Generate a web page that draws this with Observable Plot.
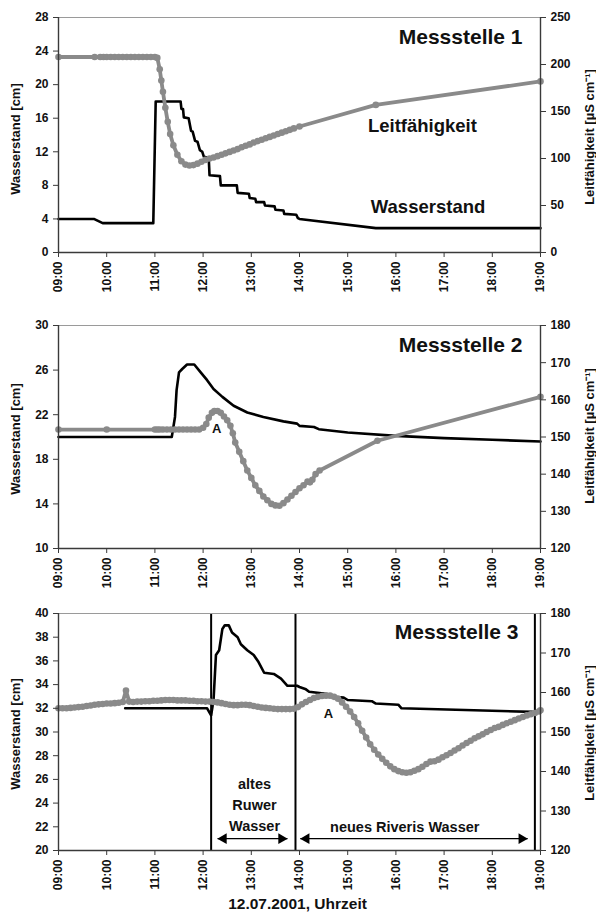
<!DOCTYPE html>
<html>
<head>
<meta charset="utf-8">
<script src="https://cdn.jsdelivr.net/npm/d3@7"></script>
<script src="https://cdn.jsdelivr.net/npm/@observablehq/plot@0.6"></script>
<style>
  html, body { margin: 0; padding: 0; background: #fff; }
  #chart { position: relative; width: 596px; height: 913px; overflow: hidden; }
  #chart svg { position: absolute; left: 0; overflow: visible; background: transparent; }
</style>
</head>
<body>
<div id="chart"></div>
<script>
// ---------------- DATA ----------------
const xTickLabels = ["09:00","10:00","11:00","12:00","13:00","14:00","15:00","16:00","17:00","18:00","19:00"];

// Messstelle 1
const ms1LeftTicks = [0, 4, 8, 12, 16, 20, 24, 28];
const ms1RightTicks = [0, 50, 100, 150, 200, 250];
const ms1Wasserstand = [
  ["09:00",4.0],["09:44",4.0],["09:55",3.5],["10:58",3.5],["11:01",18.0],["11:32",18.0],
  ["11:33",17.1],["11:35",17.1],["11:36",16.1],["11:42",16.0],["11:45",14.5],["11:47",14.4],
  ["11:50",13.3],["11:53",13.2],["11:56",12.2],["11:59",12.0],["12:01",11.4],["12:07",11.3],
  ["12:08",9.2],["12:21",9.1],["12:22",8.0],["12:42",8.0],["12:43",7.1],["12:57",7.0],
  ["12:58",6.5],["13:05",6.4],["13:06",6.0],["13:16",6.0],["13:17",5.6],["13:29",5.5],
  ["13:30",5.1],["13:40",5.0],["13:41",4.6],["13:56",4.5],["13:58",4.1],["14:00",4.0],
  ["15:35",2.9],["19:00",2.9]
];
const ms1Leitfaehigkeit = [
  ["09:00",208],["09:45",208],["09:52",208],["09:56",208],["10:00",208],["10:05",208],["10:10",208],
  ["10:15",208],["10:20",208],["10:25",208],["10:30",208],["10:35",208],["10:40",208],["10:45",208],
  ["10:50",208],["10:55",208],["11:00",208],["11:03",207],["11:06",195],["11:08",183],["11:10",171],
  ["11:13",154],["11:16",139],["11:19",126],["11:23",114],["11:28",104],["11:33",97],["11:38",93.5],
  ["11:43",92.5],["11:48",93],["11:53",94.5],["11:58",96.5],["12:03",98.5],["12:08",100],["12:13",101],
  ["12:18",102.5],["12:23",104],["12:28",105.5],["12:33",107],["12:38",108.5],["12:43",110],["12:48",112],
  ["12:53",113.5],["12:58",115],["13:03",117],["13:08",118.5],["13:13",120],["13:18",121.5],["13:23",123],
  ["13:28",124.5],["13:33",126],["13:38",127.5],["13:43",129],["13:48",130.5],["13:53",132],["14:00",134],
  ["15:35",157],["19:00",182]
];

// Messstelle 2
const ms2LeftTicks = [10, 14, 18, 22, 26, 30];
const ms2RightTicks = [120, 130, 140, 150, 160, 170, 180];
const ms2Wasserstand = [
  ["09:00",20.0],["11:21",20.0],["11:25",21.8],["11:27",24.2],["11:30",25.8],["11:34",26.1],
  ["11:40",26.5],["11:49",26.5],["11:57",25.8],["12:05",25.1],["12:13",24.3],["12:24",23.6],
  ["12:38",22.8],["12:55",22.2],["13:15",21.8],["13:40",21.4],["13:57",21.2],["14:00",21.0],
  ["14:18",20.9],["14:24",20.7],["15:00",20.4],["16:00",20.1],["17:00",19.9],["18:00",19.75],["19:00",19.6]
];
const ms2Leitfaehigkeit = [
  ["09:00",152],["10:00",152],["11:00",152],["11:03",152],["11:06",152],["11:10",152],["11:15",152],
  ["11:20",152],["11:25",152],["11:30",152],["11:35",152],["11:40",152],["11:45",152],["11:50",152],
  ["11:55",152],["12:00",152.5],["12:04",153.5],["12:07",155.2],["12:11",156.5],["12:14",157],
  ["12:18",157],["12:22",156.5],["12:26",155.5],["12:30",154.5],["12:34",153],["12:37",151],
  ["12:40",148.5],["12:45",146],["12:50",143.5],["12:55",141],["13:00",139],["13:05",137],
  ["13:10",135.5],["13:15",134],["13:20",133],["13:25",132],["13:30",131.6],["13:35",131.5],
  ["13:40",132.2],["13:45",133.2],["13:50",134.2],["13:55",135.2],["14:00",136.2],["14:05",137],
  ["14:10",138],["14:13",137.8],["14:16",138.5],["14:20",140],["14:25",141],["15:37",149],["19:00",160.8]
];

// Messstelle 3
const ms3LeftTicks = [20, 22, 24, 26, 28, 30, 32, 34, 36, 38, 40];
const ms3RightTicks = [120, 130, 140, 150, 160, 170, 180];
const ms3Wasserstand = [
  ["10:23",32.0],["12:05",32.0],["12:10",31.4],["12:13",32.7],["12:16",36.5],["12:20",36.9],
  ["12:24",38.7],["12:27",39.0],["12:32",39.0],["12:36",38.4],["12:43",38.0],["12:47",37.4],
  ["12:55",36.9],["13:03",36.5],["13:09",35.9],["13:16",35.0],["13:28",34.9],["13:37",34.5],
  ["13:45",33.9],["13:57",33.9],["14:00",33.8],["14:08",33.6],["14:12",33.4],["14:35",33.2],
  ["14:40",33.0],["14:55",32.9],["15:00",32.7],["15:30",32.6],["15:35",32.4],["16:03",32.3],
  ["16:07",32.0],["18:50",31.7]
];
const ms3Leitfaehigkeit = [
  ["09:00",156.0],["09:05",156.0],["09:10",156.0],["09:15",156.1],["09:20",156.2],["09:25",156.3],
  ["09:30",156.4],["09:35",156.6],["09:40",156.7],["09:45",156.9],["09:50",157.0],["09:55",157.1],
  ["10:00",157.2],["10:05",157.2],["10:10",157.3],["10:15",157.4],["10:20",157.6],["10:24",160.5],
  ["10:28",157.7],["10:33",157.6],["10:38",157.7],["10:43",157.7],["10:48",157.8],["10:53",157.8],
  ["10:58",157.9],["11:03",157.9],["11:08",158.0],["11:13",158.1],["11:18",158.1],["11:23",158.1],
  ["11:28",158.0],["11:33",158.0],["11:38",158.0],["11:43",157.9],["11:48",157.9],["11:53",157.8],
  ["11:58",157.8],["12:03",157.7],["12:08",157.7],["12:13",157.6],["12:18",157.5],["12:23",157.3],
  ["12:28",157.1],["12:33",156.9],["12:38",156.8],["12:43",156.8],["12:48",156.9],["12:53",156.9],
  ["12:58",156.8],["13:03",156.6],["13:08",156.4],["13:13",156.2],["13:18",156.1],["13:23",156.0],
  ["13:28",155.9],["13:33",155.8],["13:38",155.8],["13:43",155.8],["13:48",155.8],["13:53",155.9],
  ["13:58",156.3],["14:03",157.0],["14:08",157.6],["14:13",158.1],["14:18",158.6],["14:23",158.9],
  ["14:28",159.1],["14:33",159.2],["14:38",159.2],["14:43",158.9],["14:48",158.4],["14:53",157.5],
  ["14:58",156.4],["15:03",155.2],["15:08",153.8],["15:13",152.2],["15:18",150.3],["15:23",148.6],
  ["15:28",146.9],["15:33",145.5],["15:38",144.3],["15:43",143.2],["15:48",142.2],["15:53",141.3],
  ["15:58",140.6],["16:03",140.1],["16:08",139.8],["16:13",139.7],["16:18",139.8],["16:23",140.2],
  ["16:28",140.6],["16:33",141.2],["16:38",141.9],["16:43",142.5],["16:48",142.6],["16:53",143.0],
  ["16:58",143.6],["17:03",144.1],["17:08",144.7],["17:13",145.3],["17:18",145.9],["17:23",146.6],
  ["17:28",147.2],["17:33",147.8],["17:38",148.4],["17:43",148.9],["17:48",149.4],["17:53",150.0],
  ["17:58",150.5],["18:03",151.0],["18:08",151.3],["18:13",151.8],["18:18",152.2],["18:23",152.6],
  ["18:28",153.0],["18:33",153.4],["18:38",153.8],["18:43",154.2],["18:48",154.5],["18:53",154.8],
  ["18:58",155.2],["19:00",155.5]
];
const ms3Markers = ["12:10", "13:55", "18:53"];           // vertical lines
const ms3Arrows = [["12:18", "13:45"], ["14:01", "18:44"]]; // double arrows
const ms3ArrowLevel = 21;

// ---------------- HELPERS ----------------
const FONT = "'Liberation Sans', Arial, Helvetica, sans-serif";
const GREY = "#8a8a8a";
const AXIS = "#3a3a3a";
const hm = s => { const [h, m] = s.split(":").map(Number); return h + m / 60; };
const xTicks = xTickLabels.map(hm);
const xFmt = d => xTickLabels[xTicks.indexOf(d)] ?? "";

function panel(o) {
  const [L0, L1] = o.yDomain;
  const conv = d3.scaleLinear(o.cDomain, o.yDomain);
  const inv = conv.invert;
  const wasser = o.wasser.map(([t, v]) => ({x: hm(t), y: v}));
  const leit = o.leit.map(([t, v]) => ({x: hm(t), y: conv(v)}));
  const svg = Plot.plot({
    width: 596, height: o.height,
    marginTop: o.marginTop, marginBottom: o.marginBottom, marginLeft: 58, marginRight: 56,
    style: {fontFamily: FONT, fontWeight: "bold", fontSize: "12px", color: "#111", background: "transparent", overflow: "visible"},
    x: {domain: [9, 19]},
    y: {domain: o.yDomain},
    marks: [
      ...(o.before || []),
      Plot.line(wasser, {x: "x", y: "y", stroke: "#000", strokeWidth: 2.6}),
      Plot.line(leit, {x: "x", y: "y", stroke: GREY, strokeWidth: 3.8}),
      Plot.dot(leit, {x: "x", y: "y", r: 3.3, fill: GREY}),
      // frame + axis lines
      Plot.ruleY([L1], {stroke: "#9a9a9a", strokeWidth: 1}),
      Plot.ruleY([L0], {stroke: AXIS, strokeWidth: 1.4}),
      Plot.ruleX([9], {stroke: AXIS, strokeWidth: 1.4}),
      Plot.ruleX([19], {stroke: AXIS, strokeWidth: 1.4}),
      Plot.axisY({ticks: o.yTicks, tickSize: 5, tickPadding: 5, stroke: AXIS, label: null, fontSize: 12}),
      Plot.axisY({anchor: "right", ticks: o.cTicks.map(conv), tickFormat: d => Math.round(inv(d)), tickSize: 5, tickPadding: 5, stroke: AXIS, label: null, fontSize: 12}),
      Plot.axisX({ticks: xTicks, tickFormat: xFmt, tickRotate: -90, tickSize: 5, tickPadding: 4, stroke: AXIS, label: null, fontSize: 12}),
      Plot.text(["Wasserstand [cm]"], {frameAnchor: "left", rotate: -90, dx: -43, dy: o.ltDy, textAnchor: "middle", lineAnchor: "middle", fontSize: 13, fontWeight: "bold", fill: "#111"}),
      Plot.text(["Leitfähigkeit [µS cm⁻¹]"], {frameAnchor: "right", rotate: -90, dx: 49, dy: o.rtDy, textAnchor: "middle", lineAnchor: "middle", fontSize: 13, fontWeight: "bold", fill: "#111"}),
      Plot.text([o.title], {frameAnchor: "top-right", textAnchor: "end", lineAnchor: "top", dx: o.titleDx, dy: o.titleDy, fontSize: 21, fontWeight: "bold", fill: "#111"}),
      ...(o.after || [])
    ]
  });
  svg.style.top = o.top + "px";
  document.getElementById("chart").appendChild(svg);
}

// Messstelle 1
panel({
  top: 0, height: 300, marginTop: 17, marginBottom: 48,
  yDomain: [0, 28], cDomain: [0, 250], yTicks: ms1LeftTicks, cTicks: ms1RightTicks,
  wasser: ms1Wasserstand, leit: ms1Leitfaehigkeit,
  title: "Messstelle 1", titleDx: -18, titleDy: 12, ltDy: 4, rtDy: 2,
  after: [
    Plot.text(["Leitfähigkeit"], {x: hm("16:33"), y: 15.1, fontSize: 18.5, fontWeight: "bold", fill: "#111"}),
    Plot.text(["Wasserstand"], {x: hm("16:40"), y: 5.4, fontSize: 18.5, fontWeight: "bold", fill: "#111"})
  ]
});

// Messstelle 2
panel({
  top: 300, height: 280, marginTop: 25, marginBottom: 32,
  yDomain: [10, 30], cDomain: [120, 180], yTicks: ms2LeftTicks, cTicks: ms2RightTicks,
  wasser: ms2Wasserstand, leit: ms2Leitfaehigkeit,
  title: "Messstelle 2", titleDx: -18, titleDy: 12, ltDy: 2, rtDy: -1,
  after: [
    Plot.text(["A"], {x: hm("12:17"), y: 20.75, fontSize: 13, fontWeight: "bold", fill: "#111"})
  ]
});

// Messstelle 3
const arrowSegs = ms3Arrows.map(([a, b]) => ({x1: hm(a), x2: hm(b), y: ms3ArrowLevel}));
panel({
  top: 580, height: 333, marginTop: 33, marginBottom: 63,
  yDomain: [20, 40], cDomain: [120, 180], yTicks: ms3LeftTicks, cTicks: ms3RightTicks,
  wasser: ms3Wasserstand, leit: ms3Leitfaehigkeit,
  title: "Messstelle 3", titleDx: -22, titleDy: 11, ltDy: 2, rtDy: 1,
  before: [
    Plot.ruleX(ms3Markers.map(hm), {stroke: "#000", strokeWidth: 2})
  ],
  after: [
    Plot.link(arrowSegs, {x1: "x1", x2: "x2", y1: "y", y2: "y", stroke: "#000", strokeWidth: 1.4}),
    Plot.dot(arrowSegs, {x: "x1", y: "y", symbol: "triangle", r: 4, rotate: -90, fill: "#000", dx: 6}),
    Plot.dot(arrowSegs, {x: "x2", y: "y", symbol: "triangle", r: 4, rotate: 90, fill: "#000", dx: -6}),
    Plot.text(["altes\nRuwer\nWasser"], {x: hm("13:04"), y: 24.0, lineHeight: 1.45, fontSize: 14.5, fontWeight: "bold", fill: "#111"}),
    Plot.text(["neues Riveris Wasser"], {x: hm("16:11"), y: 21.97, fontSize: 14.5, fontWeight: "bold", fill: "#111"}),
    Plot.text(["A"], {x: hm("14:36"), y: 31.5, fontSize: 13, fontWeight: "bold", fill: "#111"}),
    Plot.text(["12.07.2001, Uhrzeit"], {frameAnchor: "bottom", dx: -2, dy: 54, lineAnchor: "middle", fontSize: 15.5, fontWeight: "bold", fill: "#111"})
  ]
});
</script>
</body>
</html>
